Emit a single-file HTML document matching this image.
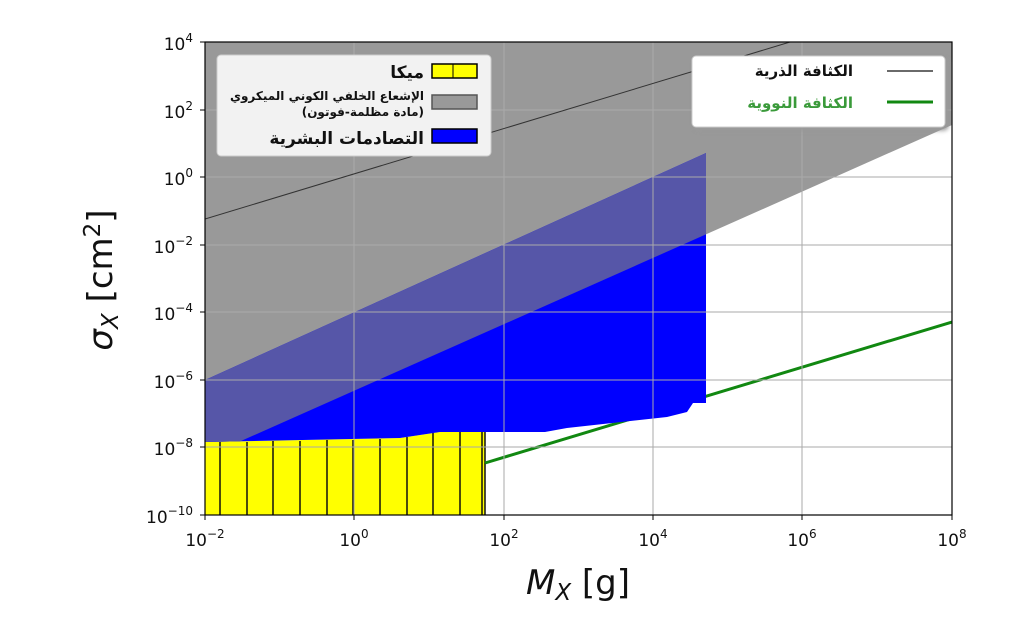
<!DOCTYPE html>
<html><head><meta charset="utf-8"><style>body{margin:0;background:#fff}svg{display:block}</style></head><body>
<svg width="1024" height="631" xmlns="http://www.w3.org/2000/svg" font-family="'DejaVu Sans','Liberation Sans',sans-serif">
<rect width="1024" height="631" fill="#fff"/>
<defs><clipPath id="c"><rect x="205" y="42" width="747" height="473"/></clipPath>
<clipPath id="g"><polygon points="205,42 952,42 952,125 205,457"/></clipPath></defs>
<g clip-path="url(#c)">
<polygon points="205,42 952,42 952,125 205,457" fill="#999"/>
<polygon points="205,515 205,442 400,438 440,432 485,432 485,515" fill="#ffff00"/>
<g stroke="#111" stroke-width="1.5">
<line x1="220" y1="442" x2="220" y2="515"/><line x1="247" y1="442" x2="247" y2="515"/><line x1="273" y1="441" x2="273" y2="515"/><line x1="300" y1="441" x2="300" y2="515"/><line x1="327" y1="440" x2="327" y2="515"/><line x1="353" y1="440" x2="353" y2="515"/><line x1="380" y1="439" x2="380" y2="515"/><line x1="407" y1="437" x2="407" y2="515"/><line x1="433" y1="433" x2="433" y2="515"/><line x1="460" y1="432" x2="460" y2="515"/><line x1="482" y1="432" x2="482" y2="515"/><line x1="485" y1="432" x2="485" y2="515"/>
</g>
<line x1="485" y1="463" x2="952" y2="322" stroke="#118811" stroke-width="3"/>
<polygon points="205,442 400,438 440,432 545,432 567,428 667,417 687,412 693,403 706,403 706,153 205,380" fill="#0000ff"/>
<polygon clip-path="url(#g)" points="205,442 400,438 440,432 545,432 567,428 667,417 687,412 693,403 706,403 706,153 205,380" fill="#5656a8"/>
<g stroke="#aaa" stroke-width="1">
<line x1="354" y1="42" x2="354" y2="515"/><line x1="504" y1="42" x2="504" y2="515"/><line x1="653" y1="42" x2="653" y2="515"/><line x1="802" y1="42" x2="802" y2="515"/>
<line x1="205" y1="110" x2="952" y2="110"/><line x1="205" y1="177" x2="952" y2="177"/><line x1="205" y1="245" x2="952" y2="245"/><line x1="205" y1="312" x2="952" y2="312"/><line x1="205" y1="380" x2="952" y2="380"/><line x1="205" y1="447" x2="952" y2="447"/>
</g>
<line x1="205" y1="219" x2="790" y2="42" stroke="#333" stroke-width="1"/>
</g>
<rect x="205" y="42" width="747" height="473" fill="none" stroke="#000" stroke-width="1.2"/>
<g stroke="#000"><line x1="205" y1="515" x2="205" y2="520"/><line x1="354" y1="515" x2="354" y2="520"/><line x1="504" y1="515" x2="504" y2="520"/><line x1="653" y1="515" x2="653" y2="520"/><line x1="802" y1="515" x2="802" y2="520"/><line x1="952" y1="515" x2="952" y2="520"/>
<line x1="200" y1="42" x2="205" y2="42"/><line x1="200" y1="110" x2="205" y2="110"/><line x1="200" y1="177" x2="205" y2="177"/><line x1="200" y1="245" x2="205" y2="245"/><line x1="200" y1="312" x2="205" y2="312"/><line x1="200" y1="380" x2="205" y2="380"/><line x1="200" y1="447" x2="205" y2="447"/><line x1="200" y1="515" x2="205" y2="515"/></g>
<g font-size="17" fill="#111" text-anchor="middle">
<text x="205" y="546">10<tspan dy="-8" font-size="12">−2</tspan></text>
<text x="354" y="546">10<tspan dy="-8" font-size="12">0</tspan></text>
<text x="504" y="546">10<tspan dy="-8" font-size="12">2</tspan></text>
<text x="653" y="546">10<tspan dy="-8" font-size="12">4</tspan></text>
<text x="802" y="546">10<tspan dy="-8" font-size="12">6</tspan></text>
<text x="952" y="546">10<tspan dy="-8" font-size="12">8</tspan></text>
</g>
<g font-size="17" fill="#111" text-anchor="end">
<text x="193" y="50">10<tspan dy="-8" font-size="12">4</tspan></text>
<text x="193" y="118">10<tspan dy="-8" font-size="12">2</tspan></text>
<text x="193" y="185">10<tspan dy="-8" font-size="12">0</tspan></text>
<text x="193" y="253">10<tspan dy="-8" font-size="12">−2</tspan></text>
<text x="193" y="320">10<tspan dy="-8" font-size="12">−4</tspan></text>
<text x="193" y="388">10<tspan dy="-8" font-size="12">−6</tspan></text>
<text x="193" y="455">10<tspan dy="-8" font-size="12">−8</tspan></text>
<text x="193" y="523">10<tspan dy="-8" font-size="12">−10</tspan></text>
</g>
<text x="578" y="594" font-size="34" text-anchor="middle" fill="#111"><tspan font-style="italic">M</tspan><tspan font-style="italic" font-size="23" dy="6">X</tspan><tspan dy="-6"> [g]</tspan></text>
<text transform="translate(112,280) rotate(-90)" font-size="34" text-anchor="middle" fill="#111"><tspan font-style="italic">σ</tspan><tspan font-style="italic" font-size="23" dy="6">X</tspan><tspan dy="-6"> [cm</tspan><tspan font-size="23" dy="-12">2</tspan><tspan dy="12">]</tspan></text>
<rect x="217" y="55" width="274" height="101" rx="4" fill="#f2f2f2" stroke="#ccc"/>
<rect x="432" y="64" width="45" height="14" fill="#ffff00" stroke="#000" stroke-width="1.5"/><line x1="453" y1="64" x2="453" y2="78" stroke="#000"/>
<rect x="432" y="95" width="45" height="14" fill="#999" stroke="#555" stroke-width="1.5"/>
<rect x="432" y="129" width="45" height="14" fill="#0000ff" stroke="#000" stroke-width="1.5"/>
<g font-family="'DejaVu Sans','Noto Sans CJK SC',sans-serif" fill="#111" text-anchor="end" font-weight="bold">
<text x="424" y="78" font-size="17">ميكا</text>
<text x="424" y="100" font-size="12">الإشعاع الخلفي الكوني الميكروي</text>
<text x="424" y="116" font-size="12">(مادة مظلمة-فوتون)</text>
<text x="424" y="144" font-size="17">التصادمات البشرية</text>
</g>
<rect x="692" y="56" width="253" height="71" rx="4" fill="#fff" stroke="#ccc" style="filter:drop-shadow(3px 3px 2px #999)"/>
<line x1="887" y1="71" x2="933" y2="71" stroke="#111" stroke-width="1.2"/>
<line x1="887" y1="102" x2="933" y2="102" stroke="#118811" stroke-width="3"/>
<g font-family="'DejaVu Sans',sans-serif" text-anchor="end" font-weight="bold" font-size="15">
<text x="853" y="76" fill="#111">الكثافة الذرية</text>
<text x="853" y="108" fill="#3a9a3a">الكثافة النووية</text>
</g>
</svg>
</body></html>
